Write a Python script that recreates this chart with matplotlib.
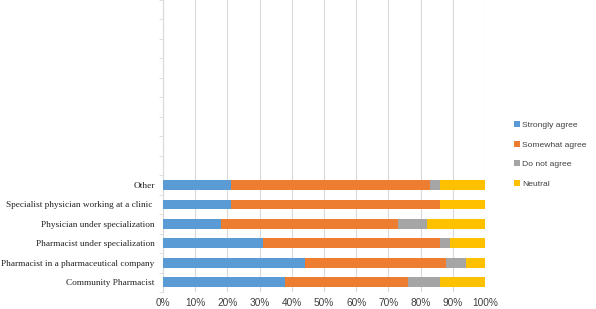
import numpy as np
import matplotlib.pyplot as plt

categories = ["Community Pharmacist", "Pharmacist in a pharmaceutical company",
              "Pharmacist under specialization", "Physician under specialization",
              "Specialist physician working at a clinic ", "Other"]
strongly = [38, 44, 31, 18, 21, 21]
somewhat = [38, 44, 55, 55, 65, 62]
disagree = [10, 6, 3, 9, 0, 3]
neutral = [14, 6, 11, 18, 14, 14]
series_names = ["Strongly agree", "Somewhat agree", "Do not agree", "Neutral"]
colors = ["#5B9BD5", "#ED7D31", "#A5A5A5", "#FFC000"]
n_slots = 15

fig = plt.figure(figsize=(5.96, 3.09), dpi=100)
ax = fig.add_axes([0.2735, 0.055, 0.5403, 0.945])

data = np.array([strongly, somewhat, disagree, neutral], dtype=float)
data = data / data.sum(axis=0) * 100
ypos = np.arange(len(categories))
left = np.zeros(len(categories))
for vals, name, c in zip(data, series_names, colors):
    ax.barh(ypos, vals, left=left, height=0.5, color=c, label=name, zorder=3)
    left += vals

ax.set_xlim(0, 100)
ax.set_ylim(-0.5, n_slots - 0.5)
ax.set_xticks(np.arange(0, 101, 10))
ax.set_xticklabels([f"{v}%" for v in range(0, 101, 10)], fontsize=7.3,
                   family="Liberation Sans", color="#404040")
ax.set_yticks(ypos)
ax.set_yticklabels(categories, fontsize=6.65, family="Liberation Serif", color="#222222")
ax.set_yticks(np.arange(-0.5, n_slots, 1), minor=True)
ax.tick_params(axis="y", which="major", length=0, pad=6)
ax.tick_params(axis="y", which="minor", length=3, color="#D9D9D9")
ax.tick_params(axis="x", length=0, pad=4)
ax.grid(axis="x", color="#D9D9D9", linewidth=0.8, zorder=0)
for s in ["top", "right", "bottom"]:
    ax.spines[s].set_visible(False)
ax.spines["left"].set_color("#D9D9D9")

fig.legend(loc="center left", bbox_to_anchor=(0.849, 0.5), frameon=False,
           prop={"family": "Liberation Sans", "size": 6.1}, labelcolor="#404040",
           handlelength=0.7, handleheight=0.7, handletextpad=0.3, labelspacing=1.4)

fig.savefig("out.png", dpi=100)
